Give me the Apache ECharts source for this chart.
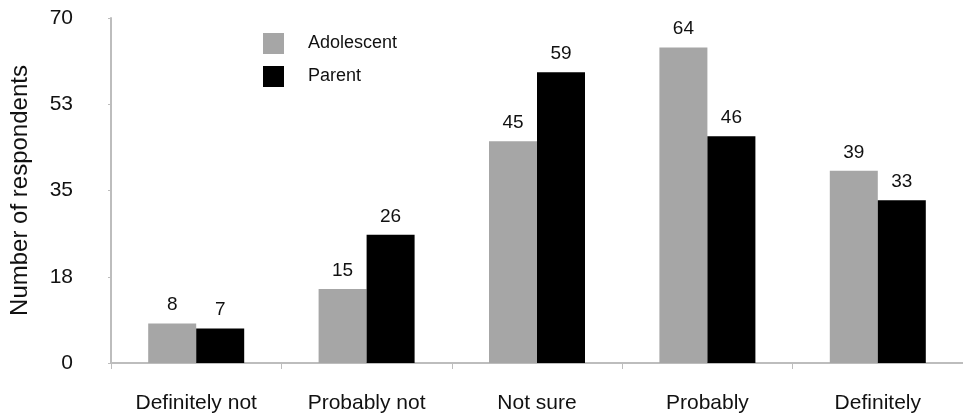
<!DOCTYPE html>
<html>
<head>
<meta charset="utf-8">
<script src="https://cdn.jsdelivr.net/npm/echarts@6/dist/echarts.min.js"></script>
<style>
  html, body { margin: 0; padding: 0; background: #fff; }
  #chart { width: 963px; height: 416px; }
</style>
</head>
<body>
<div id="chart"></div>
<script>
// Survey answers grouped by response category
const categories = ['Definitely not', 'Probably not', 'Not sure', 'Probably', 'Definitely'];
const adolescentCounts = [8, 15, 45, 64, 39];
const parentCounts = [7, 26, 59, 46, 33];
const seriesNames = ['Adolescent', 'Parent'];
const yTickValues = [0, 17.5, 35, 52.5, 70];

const FONT = '"Liberation Sans", Arial, Helvetica, sans-serif';
const chart = echarts.init(document.getElementById('chart'), null, { renderer: 'canvas' });

const valueLabel = {
  show: true,
  position: 'top',
  distance: 9,
  color: '#111',
  fontSize: 19,
  fontFamily: FONT
};

chart.setOption({
  animation: false,
  backgroundColor: '#ffffff',
  grid: { left: 110, right: 0, top: 18, bottom: 53, containLabel: false },
  legend: {
    orient: 'vertical',
    left: 263,
    top: 33,
    padding: 0,
    itemWidth: 21,
    itemHeight: 21,
    itemGap: 12,
    icon: 'rect',
    data: seriesNames,
    textStyle: { fontSize: 18, color: '#111', fontFamily: FONT, padding: [0, 0, 0, 19] }
  },
  xAxis: {
    type: 'category',
    data: categories,
    axisLine: { lineStyle: { color: '#bdbdbd', width: 2 } },
    axisTick: { show: true, length: 6, lineStyle: { color: '#bdbdbd' } },
    axisLabel: { fontSize: 21, color: '#111', fontFamily: FONT, margin: 30 }
  },
  yAxis: {
    type: 'value',
    min: 0,
    max: 70,
    interval: 17.5,
    name: 'Number of respondents',
    nameLocation: 'middle',
    nameGap: 79,
    nameTextStyle: { fontSize: 24, color: '#111', fontFamily: FONT },
    axisLine: { show: true, lineStyle: { color: '#bdbdbd', width: 2 } },
    axisTick: { show: true, length: 3, lineStyle: { color: '#bdbdbd' } },
    splitLine: { show: false },
    axisLabel: {
      fontSize: 21,
      color: '#111',
      fontFamily: FONT,
      margin: 38,
      formatter: function (v) {
        return yTickValues.indexOf(v) >= 0 ? String(Math.round(v)) : '';
      }
    }
  },
  series: [
    {
      name: seriesNames[0],
      type: 'bar',
      data: adolescentCounts,
      barWidth: 48,
      barGap: '0%',
      itemStyle: { color: '#a6a6a6' },
      label: valueLabel
    },
    {
      name: seriesNames[1],
      type: 'bar',
      data: parentCounts,
      barWidth: 48,
      barGap: '0%',
      itemStyle: { color: '#000000' },
      label: valueLabel
    }
  ]
});
</script>
</body>
</html>
